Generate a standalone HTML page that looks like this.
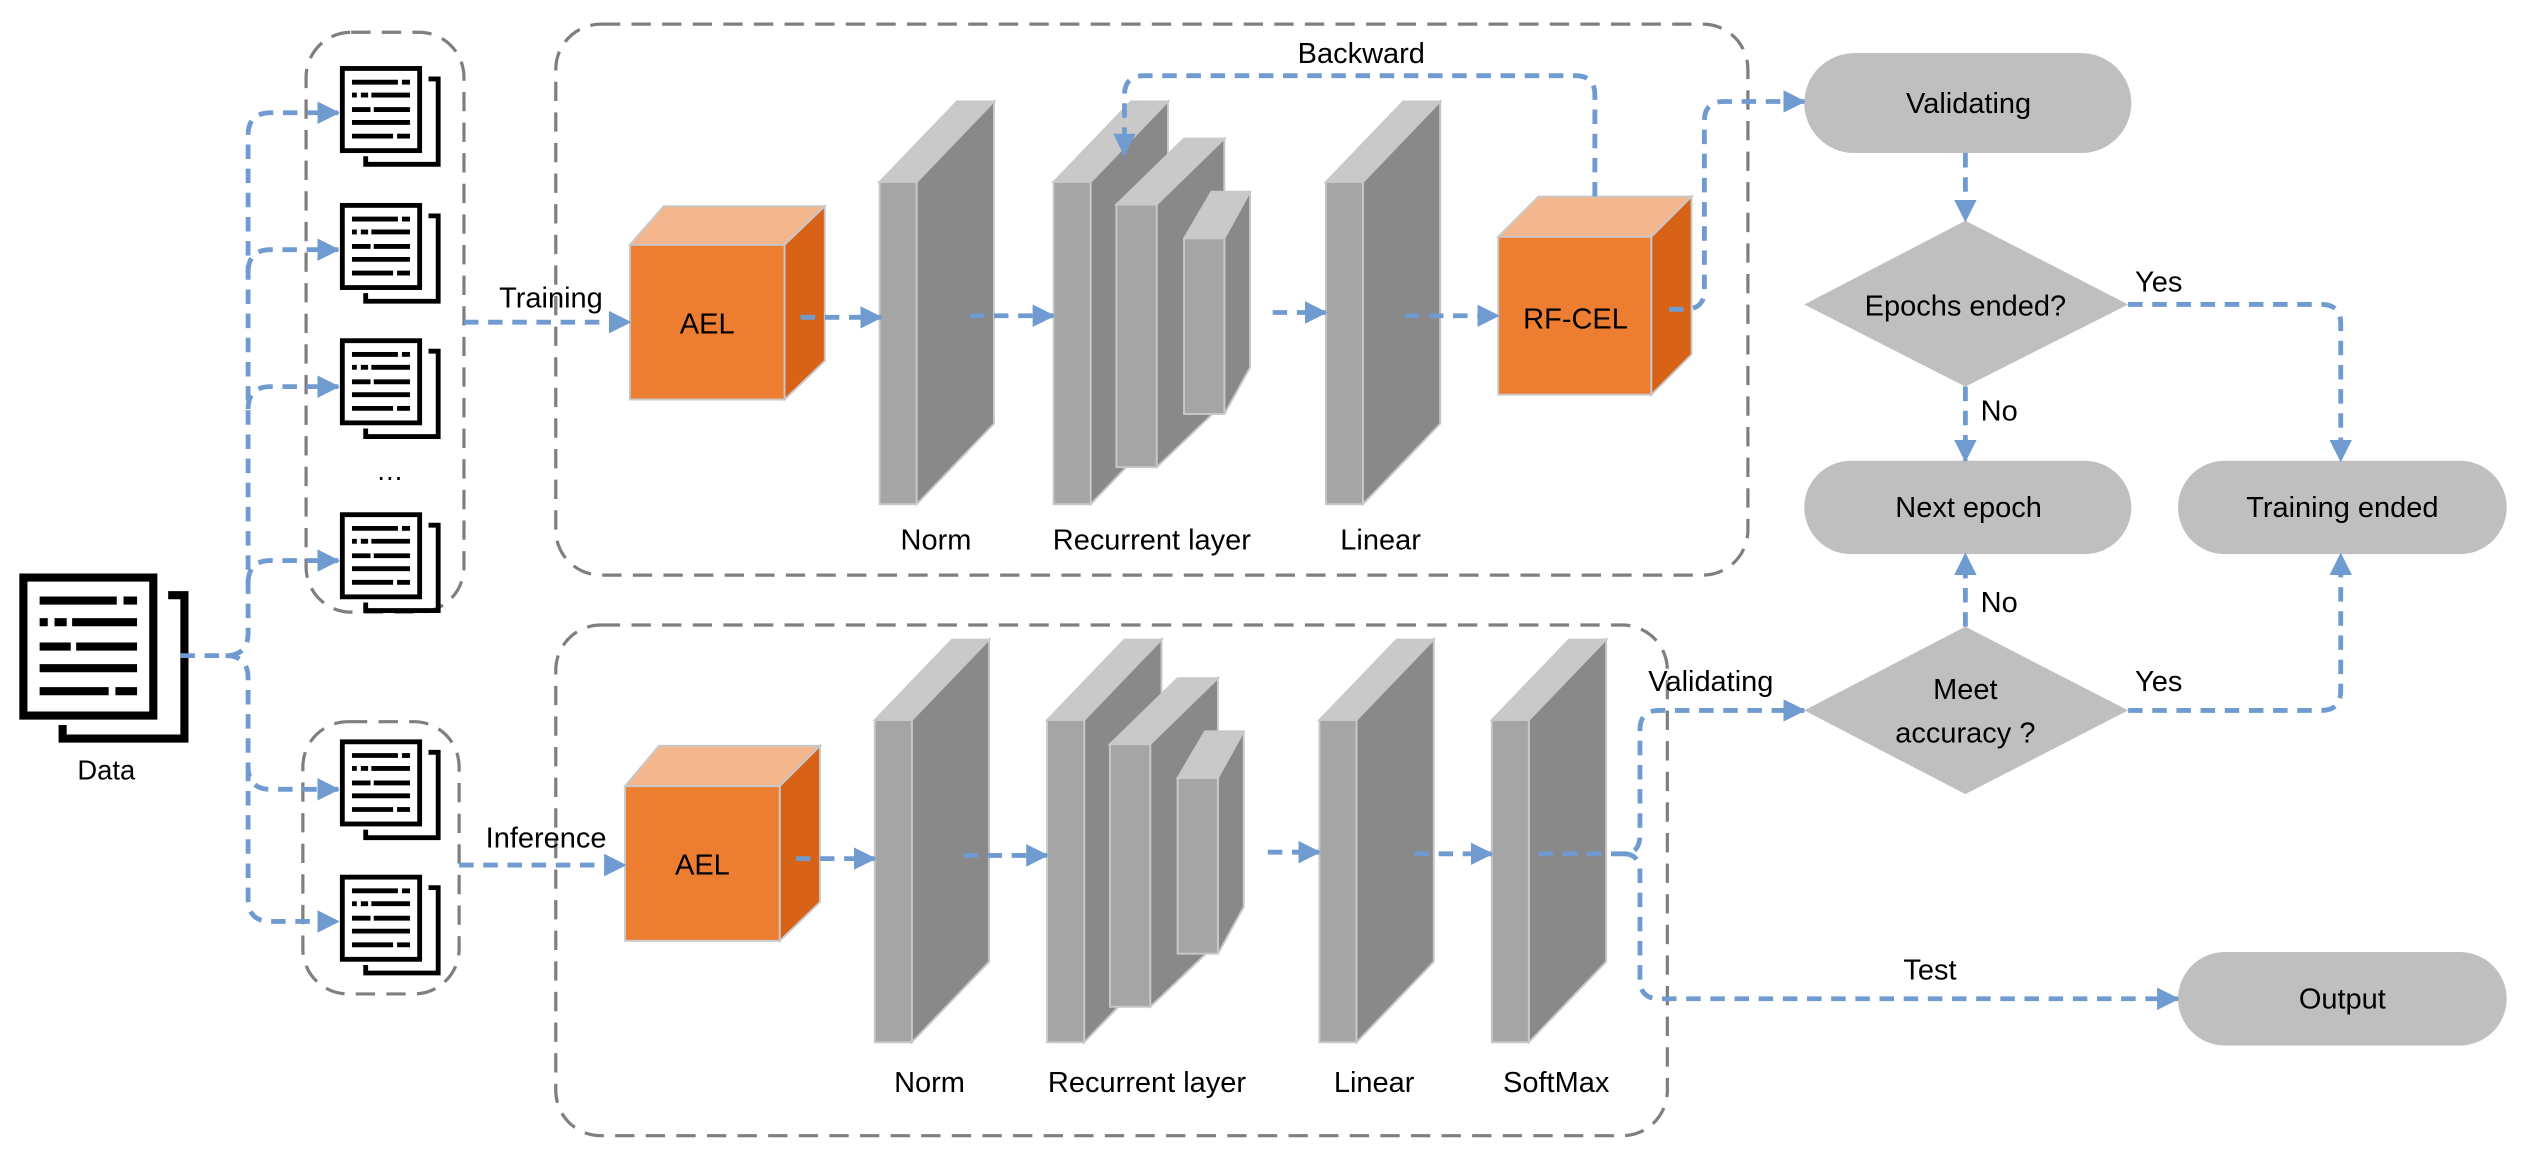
<!DOCTYPE html>
<html><head><meta charset="utf-8"><style>
html,body{margin:0;padding:0;background:#fff;}
svg{display:block;}
text{font-family:"Liberation Sans",sans-serif;fill:#000;}
</style></head><body>
<svg width="2526" height="1151" viewBox="0 0 1568 714.5" preserveAspectRatio="none" xmlns="http://www.w3.org/2000/svg">
<defs>
<marker id="ar" markerUnits="userSpaceOnUse" markerWidth="14" markerHeight="14" refX="13" refY="7" orient="auto">
<path d="M0,0 L14,7 L0,14 Z" fill="#6F9BD0"/>
</marker>
<g id="doc">
<rect x="1.5" y="1.5" width="48" height="51" fill="#fff" stroke="#000" stroke-width="3"/>
<polyline points="55,8 61,8 61,61 16,61 16,56" fill="none" stroke="#000" stroke-width="3"/>
<g stroke="#000" stroke-width="3">
<line x1="7.5" y1="10" x2="36" y2="10"/><line x1="38.5" y1="10" x2="43.5" y2="10"/>
<line x1="7.5" y1="18" x2="10.5" y2="18"/><line x1="13" y1="18" x2="17.5" y2="18"/><line x1="19.5" y1="18" x2="43.5" y2="18"/>
<line x1="7.5" y1="27" x2="19" y2="27"/><line x1="21" y1="27" x2="43.5" y2="27"/>
<line x1="7.5" y1="35" x2="43.5" y2="35"/>
<line x1="7.5" y1="43.5" x2="33" y2="43.5"/><line x1="35.5" y1="43.5" x2="43.5" y2="43.5"/>
</g>
</g>
</defs>

<!-- dashed group boxes -->
<g fill="none" stroke="#7F7F7F" stroke-width="2" stroke-dasharray="12 7">
<rect x="190" y="20" width="98" height="360" rx="28"/>
<rect x="188" y="448" width="97" height="169" rx="28"/>
<rect x="345" y="15" width="740" height="342" rx="28"/>
<rect x="345" y="388" width="690" height="317" rx="28"/>
</g>

<!-- docs -->
<use href="#doc" transform="translate(12,356) scale(1.68)"/>
<text x="66" y="484" font-size="17" text-anchor="middle">Data</text>
<use href="#doc" x="211" y="41"/>
<use href="#doc" x="211" y="126"/>
<use href="#doc" x="211" y="210"/>
<text x="242" y="298" font-size="17" text-anchor="middle">…</text>
<use href="#doc" x="211" y="318"/>
<use href="#doc" x="211" y="459"/>
<use href="#doc" x="211" y="543"/>

<!-- slabs helper: front, top, side -->
<g stroke="#C8C8C8" stroke-width="1.2">
<!-- training row -->
<polygon points="546,113 594,63 617,63 569,113" fill="#C9C9C9"/><polygon points="569,113 617,63 617,263 569,313" fill="#898989"/><rect x="546" y="113" width="23" height="200" fill="#A5A5A5"/>
<polygon points="654,113 702,63 725,63 677,113" fill="#C9C9C9"/><polygon points="677,113 725,63 725,263 677,313" fill="#898989"/><rect x="654" y="113" width="23" height="200" fill="#A5A5A5"/>
<polygon points="693,127 735,86 760,86 718,127" fill="#C9C9C9"/><polygon points="718,127 760,86 760,250 718,290" fill="#898989"/><rect x="693" y="127" width="25" height="163" fill="#A5A5A5"/>
<polygon points="735,148 752,119 776,119 760,148" fill="#C9C9C9"/><polygon points="760,148 776,119 776,228 760,257" fill="#898989"/><rect x="735" y="148" width="25" height="109" fill="#A5A5A5"/>
<polygon points="823,113 871,63 894,63 846,113" fill="#C9C9C9"/><polygon points="846,113 894,63 894,263 846,313" fill="#898989"/><rect x="823" y="113" width="23" height="200" fill="#A5A5A5"/>
<!-- inference row -->
<polygon points="543,447 591,397 614,397 566,447" fill="#C9C9C9"/><polygon points="566,447 614,397 614,597 566,647" fill="#898989"/><rect x="543" y="447" width="23" height="200" fill="#A5A5A5"/>
<polygon points="650,447 698,397 721,397 673,447" fill="#C9C9C9"/><polygon points="673,447 721,397 721,597 673,647" fill="#898989"/><rect x="650" y="447" width="23" height="200" fill="#A5A5A5"/>
<polygon points="689,462 731,421 756,421 714,462" fill="#C9C9C9"/><polygon points="714,462 756,421 756,585 714,625" fill="#898989"/><rect x="689" y="462" width="25" height="163" fill="#A5A5A5"/>
<polygon points="731,483 748,454 772,454 756,483" fill="#C9C9C9"/><polygon points="756,483 772,454 772,563 756,592" fill="#898989"/><rect x="731" y="483" width="25" height="109" fill="#A5A5A5"/>
<polygon points="819,447 867,397 890,397 842,447" fill="#C9C9C9"/><polygon points="842,447 890,397 890,597 842,647" fill="#898989"/><rect x="819" y="447" width="23" height="200" fill="#A5A5A5"/>
<polygon points="926,447 974,397 997,397 949,447" fill="#C9C9C9"/><polygon points="949,447 997,397 997,597 949,647" fill="#898989"/><rect x="926" y="447" width="23" height="200" fill="#A5A5A5"/>
<!-- cubes -->
<polygon points="391,152 412,128 512,128 487,152" fill="#F4B68C"/><polygon points="487,152 512,128 512,224 487,248" fill="#D86216"/><rect x="391" y="152" width="96" height="96" fill="#ED7D31"/>
<polygon points="388,488 409,463 509,463 484,488" fill="#F4B68C"/><polygon points="484,488 509,463 509,560 484,584" fill="#D86216"/><rect x="388" y="488" width="96" height="96" fill="#ED7D31"/>
<polygon points="930,147 955,122 1050,122 1025,147" fill="#F4B68C"/><polygon points="1025,147 1050,122 1050,220 1025,245" fill="#D86216"/><rect x="930" y="147" width="95" height="98" fill="#ED7D31"/>
</g>
<text x="439" y="207" font-size="18" text-anchor="middle">AEL</text>
<text x="436" y="543" font-size="18" text-anchor="middle">AEL</text>
<text x="978" y="204" font-size="18" text-anchor="middle">RF-CEL</text>

<g font-size="18" text-anchor="middle">
<text x="581" y="341">Norm</text><text x="715" y="341">Recurrent layer</text><text x="857" y="341">Linear</text>
<text x="577" y="678">Norm</text><text x="712" y="678">Recurrent layer</text><text x="853" y="678">Linear</text><text x="966" y="678">SoftMax</text>
<text x="342" y="191">Training</text><text x="339" y="526">Inference</text>
<text x="845" y="39">Backward</text>
<text x="1062" y="429">Validating</text>
<text x="1198" y="608">Test</text>
<text x="1340" y="181">Yes</text><text x="1340" y="429">Yes</text>
<text x="1241" y="261">No</text><text x="1241" y="380">No</text>
</g>

<!-- flowchart shapes -->
<g fill="#BFBFBF">
<rect x="1120" y="33" width="203" height="62" rx="31"/>
<polygon points="1120,189 1220,137 1321,189 1220,240"/>
<rect x="1120" y="286" width="203" height="58" rx="29"/>
<rect x="1352" y="286" width="204" height="58" rx="29"/>
<polygon points="1120,441 1220,389 1321,441 1220,493"/>
<rect x="1352" y="591" width="204" height="58" rx="29"/>
</g>
<g font-size="18" text-anchor="middle">
<text x="1222" y="70">Validating</text>
<text x="1220" y="196">Epochs ended?</text>
<text x="1222" y="321">Next epoch</text>
<text x="1454" y="321">Training ended</text>
<text x="1220" y="434">Meet</text><text x="1220" y="461">accuracy ?</text>
<text x="1454" y="626">Output</text>
</g>

<!-- blue connectors -->
<g fill="none" stroke="#6F9BD0" stroke-width="3" stroke-dasharray="9 6">
<path d="M112,407 H140 Q154,407 154,393 V84 Q154,70 168,70 H210" marker-end="url(#ar)"/>
<path d="M154,169 Q154,155 168,155 H210" marker-end="url(#ar)"/>
<path d="M154,254 Q154,240 168,240 H210" marker-end="url(#ar)"/>
<path d="M154,362 Q154,348 168,348 H210" marker-end="url(#ar)"/>
<path d="M140,407 Q154,407 154,421 V476 Q154,490 168,490 H210" marker-end="url(#ar)"/>
<path d="M154,476 V558 Q154,572 168,572 H210" marker-end="url(#ar)"/>
<path d="M288,200 H391" marker-end="url(#ar)"/>
<path d="M497,197 H547" marker-end="url(#ar)"/>
<path d="M602,196 H654" marker-end="url(#ar)"/>
<path d="M790,194 H823" marker-end="url(#ar)"/>
<path d="M872,196 H930" marker-end="url(#ar)"/>
<path d="M285,537 H388" marker-end="url(#ar)"/>
<path d="M494,533 H543" marker-end="url(#ar)"/>
<path d="M598,531 H650" marker-end="url(#ar)"/>
<path d="M787,529 H819" marker-end="url(#ar)"/>
<path d="M878,530 H926" marker-end="url(#ar)"/>
<path d="M1036,192 H1046 Q1058,192 1058,180 V75 Q1058,63 1070,63 H1120" marker-end="url(#ar)"/>
<path d="M990,122 V59 Q990,47 978,47 H710 Q698,47 698,59 V96" marker-end="url(#ar)"/>
<path d="M1220,95 V137" marker-end="url(#ar)"/>
<path d="M1220,240 V286" marker-end="url(#ar)"/>
<path d="M1220,389 V344" marker-end="url(#ar)"/>
<path d="M1321,189 H1441 Q1453,189 1453,201 V286" marker-end="url(#ar)"/>
<path d="M1321,441 H1441 Q1453,441 1453,429 V344" marker-end="url(#ar)"/>
<path d="M955,530 H1008 Q1018,530 1018,518 V453 Q1018,441 1030,441 H1120" marker-end="url(#ar)"/>
<path d="M1008,530 Q1018,530 1018,542 V608 Q1018,620 1030,620 H1352" marker-end="url(#ar)"/>
</g>
</svg>
</body></html>
